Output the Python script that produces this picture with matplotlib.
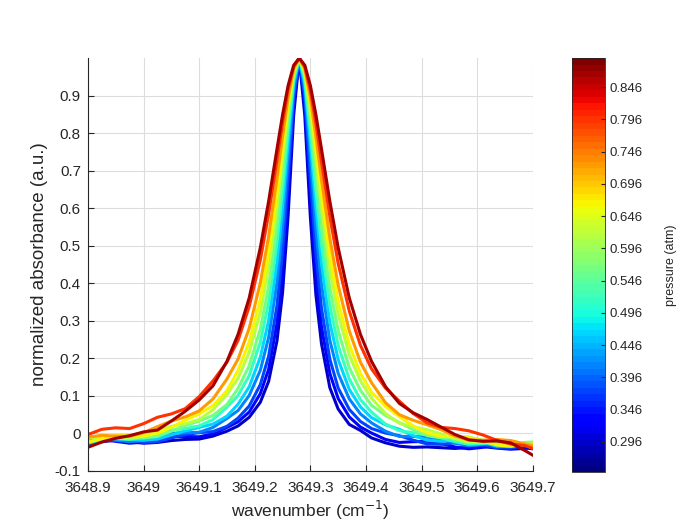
import numpy as np
import matplotlib.pyplot as plt
import matplotlib as mpl
from matplotlib.ticker import FormatStrFormatter

plt.rcParams['font.family'] = ['Liberation Sans', 'DejaVu Sans']
plt.rcParams['axes.unicode_minus'] = False

# wavenumber grid (cm^-1)
wavenumber = [3648.900, 3648.925, 3648.950, 3648.975, 3649.000, 3649.025, 3649.050,
              3649.075, 3649.100, 3649.125, 3649.150, 3649.170, 3649.190, 3649.210,
              3649.225, 3649.240, 3649.250, 3649.260, 3649.270, 3649.280, 3649.290,
              3649.300, 3649.310, 3649.320, 3649.335, 3649.350, 3649.370, 3649.390,
              3649.410, 3649.435, 3649.460, 3649.485, 3649.510, 3649.535, 3649.560,
              3649.585, 3649.610, 3649.635, 3649.660, 3649.685, 3649.700]

pressure = [0.296, 0.33, 0.37, 0.41, 0.46, 0.51, 0.56, 0.62, 0.67, 0.73, 0.80, 0.87]

abs_p0296 = [-.025, -.022, -.018, -.022, -.026, -.024, -.019, -.016, -.015, -.007, .006, .020, .043,
             .083, .139, .247, .375, .580, .848, 1.000, .847, .576, .369, .239, .122, .065, .024,
             .008, -.012, -.025, -.034, -.037, -.036, -.038, -.040, -.037, -.035, -.039, -.042, -.040, -.038]
abs_p0330 = [-.018, -.016, -.021, -.026, -.023, -.014, -.008, -.008, -.009, -.001, .016, .031, .057,
             .106, .171, .294, .432, .636, .876, 1.000, .874, .631, .424, .284, .160, .093, .044,
             .017, .001, -.016, -.024, -.022, -.021, -.027, -.036, -.041, -.037, -.031, -.031, -.038, -.041]
abs_p0370 = [-.028, -.021, -.016, -.018, -.024, -.022, -.012, -.003, .002, .005, .019, .041, .073,
             .130, .206, .341, .485, .683, .897, 1.000, .896, .680, .480, .334, .198, .121, .064,
             .032, .013, .001, -.006, -.018, -.028, -.029, -.025, -.023, -.030, -.038, -.039, -.033, -.031]
abs_p0410 = [-.015, -.013, -.018, -.022, -.018, -.008, .000, .002, .003, .016, .040, .061, .101,
             .168, .256, .403, .550, .736, .918, 1.000, .917, .733, .545, .397, .248, .160, .092,
             .052, .028, .006, -.008, -.008, -.010, -.016, -.026, -.033, -.030, -.024, -.024, -.031, -.035]
abs_p0460 = [-.026, -.019, -.013, -.015, -.018, -.015, -.004, .007, .016, .025, .046, .078, .124,
             .203, .301, .457, .604, .776, .933, 1.000, .932, .774, .601, .453, .296, .197, .117,
             .071, .042, .023, .011, -.006, -.018, -.021, -.017, -.017, -.024, -.034, -.035, -.029, -.028]
abs_p0510 = [-.013, -.010, -.014, -.016, -.011, .000, .009, .013, .020, .037, .070, .101, .154,
             .243, .349, .510, .652, .809, .944, 1.000, .944, .807, .648, .504, .341, .234, .145,
             .090, .057, .025, .007, .002, -.003, -.011, -.022, -.029, -.027, -.022, -.024, -.031, -.035]
abs_p0560 = [-.024, -.015, -.008, -.009, -.012, -.008, .006, .021, .033, .048, .077, .120, .180,
             .278, .392, .554, .692, .836, .953, 1.000, .953, .835, .690, .552, .388, .274, .175,
             .115, .075, .048, .029, .010, -.006, -.012, -.009, -.010, -.018, -.028, -.030, -.024, -.023]
abs_p0620 = [-.012, -.009, -.012, -.014, -.007, .007, .019, .026, .037, .063, .104, .147, .216,
             .323, .443, .605, .734, .862, .962, 1.000, .961, .861, .731, .602, .438, .318, .209,
             .140, .094, .053, .027, .018, .010, -.001, -.015, -.024, -.023, -.019, -.020, -.028, -.033]
abs_p0670 = [-.023, -.014, -.006, -.005, -.007, .000, .016, .035, .052, .074, .114, .168, .243,
             .357, .480, .640, .762, .878, .967, 1.000, .966, .877, .760, .637, .475, .351, .236,
             .160, .110, .072, .045, .020, .001, -.008, -.007, -.010, -.020, -.031, -.034, -.029, -.028]
abs_p0730 = [-.010, -.005, -.007, -.008, .002, .018, .033, .044, .060, .092, .145, .198, .280,
             .401, .525, .680, .792, .896, .972, 1.000, .972, .895, .790, .677, .520, .395, .273,
             .190, .135, .082, .050, .035, .023, .010, -.007, -.018, -.018, -.016, -.019, -.028, -.032]
abs_p0800 = [-.003, .011, .015, .013, .026, .043, .052, .066, .098, .140, .190, .248, .338,
             .462, .585, .729, .828, .916, .977, 1.000, .977, .914, .825, .724, .578, .453, .326,
             .235, .172, .121, .086, .053, .028, .016, .013, .007, -.004, -.018, -.028, -.032, -.040]
abs_p0870 = [-.037, -.023, -.013, -.006, .004, .009, .033, .059, .089, .127, .192, .264, .361,
             .495, .619, .758, .849, .927, .981, 1.000, .981, .927, .849, .758, .619, .495, .361,
             .264, .192, .125, .080, .055, .037, .017, -.003, -.017, -.021, -.020, -.025, -.045, -.058]

spectra = [abs_p0296, abs_p0330, abs_p0370, abs_p0410, abs_p0460, abs_p0510,
           abs_p0560, abs_p0620, abs_p0670, abs_p0730, abs_p0800, abs_p0870]

cbar_ticks = [0.296, 0.346, 0.396, 0.446, 0.496, 0.546, 0.596, 0.646, 0.696, 0.746, 0.796, 0.846]

txt = '#262626'
cmap = plt.get_cmap('jet', 64)
norm = mpl.colors.Normalize(vmin=0.249, vmax=0.891)

fig = plt.figure(figsize=(6.92, 5.28), dpi=100)
ax = fig.add_axes([0.127, 0.108, 0.643, 0.782])
cax = fig.add_axes([0.8266, 0.106, 0.0477, 0.784])

for p, y in zip(pressure, spectra):
    ax.plot(wavenumber, y, color=cmap(norm(p)), lw=2.2)

ax.set_xlim(3648.9, 3649.7)
ax.set_ylim(-0.1, 1.0)
ax.set_xticks(np.round(np.arange(3648.9, 3649.71, 0.1), 1))
ax.set_yticks(np.round(np.arange(-0.1, 0.91, 0.1), 1))
ax.xaxis.set_major_formatter(FormatStrFormatter('%g'))
ax.yaxis.set_major_formatter(FormatStrFormatter('%g'))
ax.grid(True, color='#dddddd', lw=0.8)
ax.set_axisbelow(True)
for s in ['top', 'right']:
    ax.spines[s].set_visible(False)
for s in ['left', 'bottom']:
    ax.spines[s].set_color(txt)
ax.tick_params(direction='in', colors=txt, labelsize=11, length=4)
ax.tick_params(axis='x', pad=7)
ax.tick_params(axis='y', pad=5)
ax.set_xlabel('wavenumber (cm$^{-1}$)', fontsize=12.5, color=txt, labelpad=3)
ax.set_ylabel('normalized absorbance (a.u.)', fontsize=13.5, color=txt, labelpad=5)

cb = mpl.colorbar.ColorbarBase(cax, cmap=cmap, norm=norm)
cb.set_ticks(cbar_ticks)
cb.ax.yaxis.set_major_formatter(FormatStrFormatter('%.3f'))
cb.ax.tick_params(direction='in', colors=txt, labelsize=9.5, length=3)
cb.outline.set_edgecolor(txt)
cb.outline.set_linewidth(0.6)
cb.set_label('pressure (atm)', fontsize=9, color=txt, labelpad=16)

fig.savefig('out.png', dpi=100)
